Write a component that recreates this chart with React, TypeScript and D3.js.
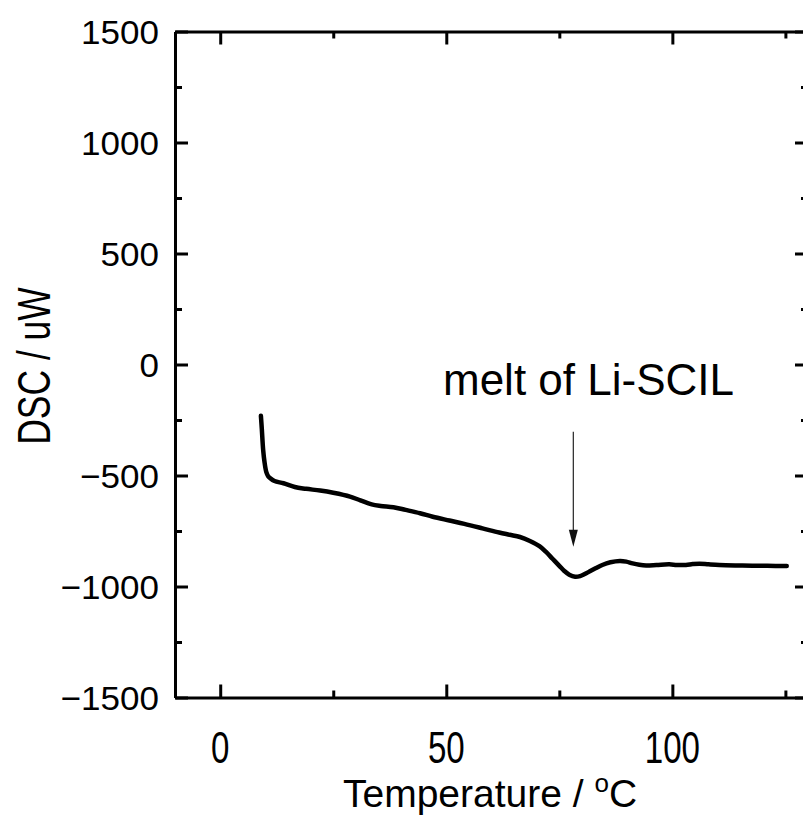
import React, { useEffect, useRef } from 'react';
import * as d3 from 'd3';

// DSC trace
const temperature = [9.0, 9.2, 9.5, 9.8, 10.2, 10.6, 11.0, 12.0, 14.0, 16.5, 19.0, 22.1, 25.0, 28.7, 31.0, 33.5, 35.5, 38.3, 41.0, 44.2, 47.0, 50.7, 54.0, 58.0, 61.7, 64.0, 66.3, 68.5, 70.6, 72.0, 73.5, 75.0, 76.1, 77.2, 78.5, 79.6, 80.6, 81.6, 83.0, 84.5, 86.3, 88.4, 89.8, 91.2, 92.7, 94.2, 96.5, 99.3, 101.0, 103.0, 104.5, 106.0, 108.0, 110.4, 114.0, 117.7, 121.0, 125.3];
const dsc = [-231, -290, -385, -440, -485, -503, -511, -525, -535, -552, -560, -568, -578, -595, -612, -630, -637, -643, -655, -670, -686, -703, -718, -738, -757, -767, -777, -795, -818, -843, -875, -907, -930, -947, -956, -953, -944, -933, -918, -903, -891, -885, -888, -896, -902, -905, -903, -900, -903, -903, -899, -897, -900, -903, -905, -906, -907, -908];

const xMajor = [0, 50, 100];
const xMinor = [25, 75, 125];
const yMajor = [-1500, -1000, -500, 0, 500, 1000, 1500];
const yMinor = [-1250, -750, -250, 250, 750, 1250];

const arrowAt = { x: 78.1, yFrom: -303, yTo: -821 };
const noteText = 'melt of Li-SCIL';

export default function App() {
    const ref = useRef<SVGSVGElement>(null);
    const width = 803;
    const height = 817;
    const plot = { left: 175, right: 808, top: 31.5, bottom: 697.5 };
    const font = '"Liberation Sans", Arial, Helvetica, sans-serif';

    useEffect(() => {
        const svg = d3.select(ref.current);
        svg.selectAll('*').remove();

        const x = d3.scaleLinear().domain([-10, 130]).range([plot.left, plot.right]);
        const y = d3.scaleLinear().domain([-1500, 1500]).range([plot.bottom, plot.top]);

        // axes with inward ticks on all four sides
        const axisGroup = (axis: any, tx: number, ty: number) => {
            const g = svg.append('g')
                .attr('transform', 'translate(' + tx + ',' + ty + ')')
                .call(axis);
            g.selectAll('path').attr('stroke', '#000').attr('stroke-width', 3);
            g.selectAll('line').attr('stroke', '#000').attr('stroke-width', 3);
            g.selectAll('text').remove();
            return g;
        };
        const sides = [
            { make: d3.axisBottom, scale: x, tx: 0, ty: plot.bottom, vals: xMajor, minor: xMinor },
            { make: d3.axisTop, scale: x, tx: 0, ty: plot.top, vals: xMajor, minor: xMinor },
            { make: d3.axisLeft, scale: y, tx: plot.left, ty: 0, vals: yMajor, minor: yMinor },
            { make: d3.axisRight, scale: y, tx: plot.right, ty: 0, vals: yMajor, minor: yMinor },
        ];
        sides.forEach(s => {
            axisGroup((s.make as any)(s.scale).tickValues(s.vals).tickSizeInner(-13).tickSizeOuter(0), s.tx, s.ty);
            const m = axisGroup((s.make as any)(s.scale).tickValues(s.minor).tickSizeInner(-7).tickSizeOuter(0), s.tx, s.ty);
            m.select('path').remove();
        });

        // tick labels
        svg.append('g').selectAll('text')
            .data(yMajor)
            .enter().append('text')
            .attr('transform', d => 'translate(159,' + y(d) + ') scale(1.03,1)')
            .attr('dy', '0.36em')
            .attr('text-anchor', 'end')
            .style('font-family', font)
            .style('font-size', '34px')
            .text(d => d3.format('d')(d));
        svg.append('g').selectAll('text')
            .data(xMajor)
            .enter().append('text')
            .attr('transform', d => 'translate(' + x(d) + ',763) scale(0.735,1)')
            .attr('text-anchor', 'middle')
            .style('font-family', font)
            .style('font-size', '45px')
            .text(d => d3.format('d')(d));

        // axis titles
        svg.append('text')
            .attr('transform', 'translate(50,366) rotate(-90) scale(0.77,1)')
            .attr('text-anchor', 'middle')
            .style('font-family', font)
            .style('font-size', '46px')
            .text('DSC / uW');
        const xt = svg.append('text')
            .attr('x', 343)
            .attr('y', 807)
            .style('font-family', font)
            .style('font-size', '39px');
        xt.append('tspan').text('Temperature / ');
        xt.append('tspan').attr('dy', -15).style('font-size', '26px').text('o');
        xt.append('tspan').attr('dy', 15).text('C');

        // trace
        const pts = temperature.map((t, i) => [t, dsc[i]] as [number, number]);
        const line = d3.line<[number, number]>()
            .x(d => x(d[0]))
            .y(d => y(d[1]))
            .curve(d3.curveCatmullRom.alpha(0.5));
        svg.append('path')
            .datum(pts)
            .attr('fill', 'none')
            .attr('stroke', '#000')
            .attr('stroke-width', 4.5)
            .attr('stroke-linecap', 'round')
            .attr('stroke-linejoin', 'round')
            .attr('d', line);

        // annotation arrow
        const ax = x(arrowAt.x);
        const tipY = y(arrowAt.yTo);
        svg.append('line')
            .attr('x1', ax).attr('x2', ax)
            .attr('y1', y(arrowAt.yFrom)).attr('y2', tipY - 14)
            .attr('stroke', '#333')
            .attr('stroke-width', 1.3);
        svg.append('path')
            .attr('d', 'M' + (ax - 4.5) + ',' + (tipY - 17) + 'L' + (ax + 4.5) + ',' + (tipY - 17) + 'L' + ax + ',' + tipY + 'Z')
            .attr('fill', '#111');
        svg.append('text')
            .attr('x', 443)
            .attr('y', 395)
            .style('font-family', font)
            .style('font-size', '44px')
            .text(noteText);
    }, []);

    return (
        <svg ref={ref} width={width} height={height}
            style={{ position: 'absolute', left: 0, top: 0, background: '#fff' }} />
    );
}
